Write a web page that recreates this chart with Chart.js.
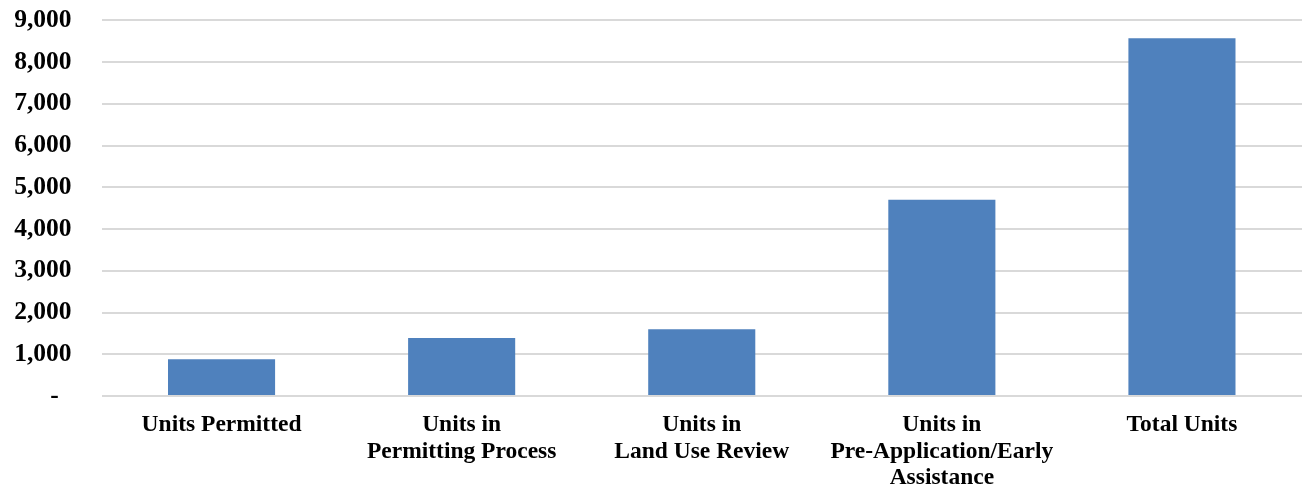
<!DOCTYPE html>
<html>
<head>
<meta charset="utf-8">
<script src="https://cdn.jsdelivr.net/npm/chart.js@4.4.0/dist/chart.umd.min.js"></script>
<style>
    html, body { margin: 0; padding: 0; background: #fff; overflow: hidden; }
    /* canvas pulled up a bit: the layout keeps ~25px empty above the plot */
    .chart-container { width: 1302px; height: 515px; position: relative; top: -25px; }
</style>
</head>
<body>
<div class="chart-container"><canvas class="my-chart"></canvas></div>
<script>
const categories = [
    'Units Permitted',
    ['Units in', 'Permitting Process'],
    ['Units in', 'Land Use Review'],
    ['Units in', 'Pre-Application/Early', 'Assistance'],
    'Total Units'
];
const units = [880, 1390, 1600, 4700, 8570];
const yTicks = [0, 1000, 2000, 3000, 4000, 5000, 6000, 7000, 8000, 9000];

const myChart = document.querySelector('.my-chart');

new Chart(myChart, {
    type: 'bar',
    data: {
        labels: categories,
        datasets: [{
            label: 'Units',
            data: units,
            backgroundColor: '#4f81bd',
            borderWidth: 0,
            barPercentage: 0.446,
            categoryPercentage: 1
        }]
    },
    options: {
        responsive: true,
        maintainAspectRatio: false,
        animation: false,
        layout: {
            autoPadding: false,
            padding: { left: 12, right: 0, top: 0, bottom: 0 }
        },
        plugins: {
            legend: { display: false },
            title: { display: false },
            tooltip: { enabled: false }
        },
        scales: {
            x: {
                grid: { display: false, drawTicks: false },
                border: { display: false },
                afterFit: (axis) => { axis.height = 94; },
                ticks: {
                    color: '#000',
                    maxRotation: 0,
                    autoSkip: false,
                    padding: 16,
                    font: { family: 'Liberation Serif', weight: 'bold', size: 23.5, lineHeight: 1.12 }
                }
            },
            y: {
                min: 0,
                max: 9000,
                afterBuildTicks: (axis) => {
                    axis.ticks = yTicks.map(v => ({ value: v }));
                },
                afterFit: (axis) => { axis.width = 89.5; },
                grid: { color: '#d9d9d9', lineWidth: 2, drawTicks: false },
                border: { display: false },
                ticks: {
                    color: '#000',
                    padding: 30,
                    font: { family: 'Liberation Serif', weight: 'bold', size: 25.5 },
                    callback: (v) => v === 0 ? '-  ' : v.toLocaleString('en-US')
                }
            }
        }
    }
});
</script>
</body>
</html>
